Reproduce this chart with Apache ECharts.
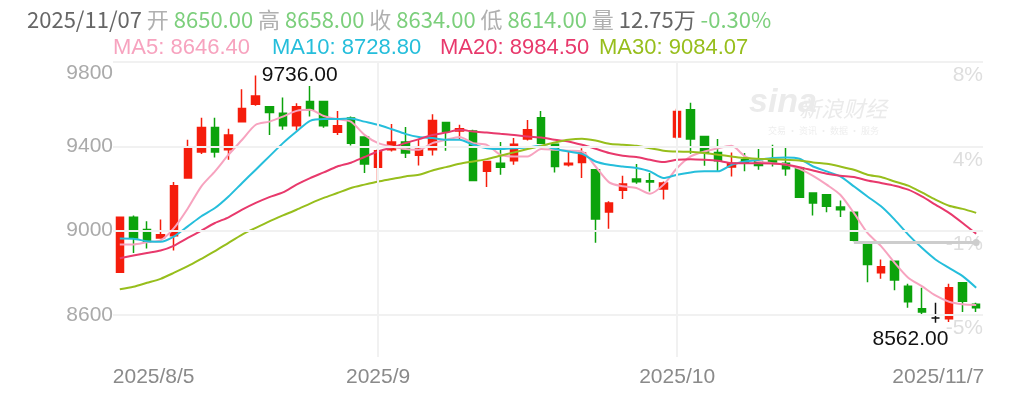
<!DOCTYPE html>
<html><head><meta charset="utf-8">
<script src="https://cdn.jsdelivr.net/npm/echarts@6/dist/echarts.min.js"></script>
<style>html,body{margin:0;padding:0;background:#fff}#c{width:1024px;height:395px}</style>
</head><body><div id="c"></div>
<script>
const dates = [
'2025/8/5','2025/8/6','2025/8/7','2025/8/8','2025/8/11','2025/8/12','2025/8/13','2025/8/14','2025/8/15',
'2025/8/18','2025/8/19','2025/8/20','2025/8/21','2025/8/22','2025/8/25','2025/8/26','2025/8/27','2025/8/28','2025/8/29',
'2025/9/1','2025/9/2','2025/9/3','2025/9/4','2025/9/5','2025/9/8','2025/9/9','2025/9/10','2025/9/11','2025/9/12',
'2025/9/15','2025/9/16','2025/9/17','2025/9/18','2025/9/19','2025/9/22','2025/9/23','2025/9/24','2025/9/25','2025/9/26',
'2025/9/29','2025/9/30',
'2025/10/9','2025/10/10','2025/10/11','2025/10/13','2025/10/14','2025/10/15','2025/10/16','2025/10/17',
'2025/10/20','2025/10/21','2025/10/22','2025/10/23','2025/10/24','2025/10/27','2025/10/28','2025/10/29','2025/10/30','2025/10/31',
'2025/11/3','2025/11/4','2025/11/5','2025/11/6','2025/11/7'];
const opens  = [8802,9063,9005,8965,8976,9249,9373,9489,9383,9517,9600,9588,9557,9498,9612,9612,9467,9534,9444,9300,9383,9420,9358,9383,9513,9473,9473,9281,9320,9331,9434,9536,9410,9312,9323,9289,9088,9191,9245,9237,9197,9444,9573,9446,9371,9302,9336,9328,9336,9320,9297,9178,9170,9112,9087,8945,8800,8855,8736,8629,8585,8582,8752,8650];
const closes = [9063,8965,8946,8980,9213,9388,9489,9373,9454,9579,9639,9560,9498,9588,9573,9498,9497,9415,9316,9379,9420,9368,9387,9522,9470,9483,9238,9328,9300,9410,9478,9415,9304,9320,9368,9055,9131,9221,9232,9230,9226,9565,9434,9371,9331,9320,9320,9309,9320,9293,9158,9131,9115,9099,8954,8839,8828,8765,8662,8613,8585,8729,8665,8634];
const lows   = [8800,8894,8915,8963,8905,9247,9363,9347,9336,9515,9592,9454,9478,9475,9541,9488,9454,9404,9273,9238,9375,9344,9309,9356,9379,9431,9236,9207,9265,9312,9427,9413,9276,9304,9249,8942,9009,9150,9222,9186,9147,9434,9364,9308,9281,9257,9281,9289,9304,9260,9155,9072,9087,9065,8949,8755,8771,8717,8634,8594,8562,8566,8613,8614];
const highs  = [9066,9072,9044,9052,9230,9431,9536,9536,9483,9671,9736,9590,9631,9604,9686,9614,9568,9541,9446,9387,9506,9491,9434,9552,9515,9502,9478,9330,9420,9439,9525,9568,9412,9375,9391,9291,9139,9260,9316,9273,9233,9578,9607,9448,9434,9371,9368,9387,9407,9396,9299,9180,9172,9143,9089,8947,8863,8857,8748,8729,8658,8748,8754,8658];
const ma5  = [8934,8934,8945,8954,9013,9105,9210,9281,9360,9431,9502,9517,9541,9568,9573,9544,9529,9517,9454,9415,9399,9387,9383,9415,9431,9444,9415,9407,9360,9352,9352,9387,9383,9379,9375,9304,9229,9210,9202,9175,9218,9297,9352,9375,9391,9402,9352,9328,9320,9314,9293,9260,9218,9170,9084,8989,8926,8847,8776,8736,8692,8662,8650,8646.40];
const ma10 = [8962,8961,8949,8947,8973,9020,9068,9107,9162,9226,9289,9352,9415,9470,9521,9529,9529,9532,9517,9502,9481,9459,9444,9439,9431,9431,9407,9391,9387,9391,9394,9402,9388,9375,9364,9328,9312,9304,9297,9281,9249,9265,9276,9281,9281,9312,9328,9336,9344,9347,9341,9304,9281,9257,9210,9162,9115,9052,8981,8918,8863,8823,8784,8728.80];
const ma20 = [8869,8882,8894,8905,8929,8965,9000,9036,9063,9099,9131,9159,9181,9218,9249,9276,9304,9322,9349,9375,9394,9415,9434,9454,9465,9478,9470,9465,9459,9454,9446,9442,9431,9423,9407,9388,9368,9355,9349,9336,9325,9336,9339,9336,9331,9320,9320,9320,9318,9312,9301,9285,9270,9260,9254,9238,9226,9213,9194,9162,9123,9084,9036,8984.50];
const ma30 = [8721,8733,8752,8771,8800,8831,8866,8902,8942,8981,9013,9044,9072,9099,9128,9155,9178,9202,9218,9233,9245,9257,9265,9285,9301,9317,9328,9339,9355,9371,9387,9402,9418,9431,9436,9427,9412,9407,9402,9391,9379,9375,9374,9368,9360,9352,9344,9341,9339,9336,9333,9323,9317,9304,9289,9265,9254,9233,9213,9181,9147,9118,9103,9084.07];
const maNames = ['MA5','MA10','MA20','MA30'];
const yTickValues = [9800,9400,9000,8600];
const yTickLabels = ['9800','9400','9000','8600'];
const pctLabels = ['8%','4%','-1%','-5%'];
const xTickDates = ['2025/8/5','2025/9/1','2025/10/9','2025/11/7'];
const xTickLabels = ['2025/8/5','2025/9','2025/10','2025/11/7'];
const monthLineDates = ['2025/9/1','2025/10/9'];
const headerDate = '2025/11/07';
const headerVolume = '12.75万';
const headerChange = '-0.30%';
const refLineValue = 8943;
const refLineStartDate = '2025/10/27';

const maSeries = [ma5, ma10, ma20, ma30];
const maColors = ['#f7a3bf','#25bedb','#e8396c','#97be1c'];
const upColor = '#f51d0c', downColor = '#0ca30c';
const FONT = '"Liberation Sans", Arial, sans-serif';
const CJK = '"Noto Sans CJK SC", sans-serif';
const last = dates.length - 1;
let maxI = 0, minI = 0;
highs.forEach((h,i)=>{ if (h > highs[maxI]) maxI = i; });
lows.forEach((l,i)=>{ if (l < lows[minI]) minI = i; });

const chart = echarts.init(document.getElementById('c'), null, {renderer:'canvas'});
const hdr = '{d|' + headerDate + '} {k|开} {v|' + opens[last].toFixed(2) + '} {k|高} {v|' + highs[last].toFixed(2) +
  '} {k|收} {v|' + closes[last].toFixed(2) + '} {k|低} {v|' + lows[last].toFixed(2) + '} {k|量} {d|' + headerVolume + '} {v|' + headerChange + '}';
const legendX = [113, 272, 440, 599];
const graphics = maNames.map((n,k)=>({
  type:'text', left: legendX[k], top: 37,
  style:{ text: n + ': ' + maSeries[k][last].toFixed(2), fill: maColors[k], font: '22px ' + FONT }
}));
graphics.push({type:'text', left: 749, top: 86, style:{text:'sina', fill:'#ebebeb', font:'italic bold 34px ' + FONT}});
graphics.push({type:'text', left: 799, top: 98, style:{text:'新浪财经', fill:'#ebebeb', font:'italic 22px ' + CJK}});
graphics.push({type:'text', left: 768, top: 126, style:{text:'交易 · 资讯 · 数据 · 服务', fill:'#eeeeee', font:'9px ' + CJK}});

chart.setOption({
  animation: false,
  backgroundColor: '#fff',
  title: { left: 22, top: 4, text: hdr, textStyle: { fontSize: 22, fontWeight: 'normal', fontFamily: CJK, color: '#aaa',
    rich: { d: {color:'#666', fontSize:22, fontFamily:CJK}, k: {color:'#b0b0b0', fontSize:22, fontFamily:CJK}, v: {color:'#7ccf7c', fontSize:22, fontFamily:CJK} } } },
  graphic: graphics,
  grid: { left: 113, right: 41, top: 62, bottom: 38, containLabel: false },
  xAxis: { type: 'category', data: dates, boundaryGap: true,
    axisLine: {show:false}, axisTick: {show:false}, splitLine: {show:false},
    axisLabel: { interval: (i, v) => xTickDates.includes(v),
      formatter: v => { const k = xTickDates.indexOf(v); if (k < 0) return ''; if (k === 0) return '{f|' + xTickLabels[k] + '}'; if (k === xTickDates.length - 1) return '{l|' + xTickLabels[k] + '}'; return xTickLabels[k]; },
      color: '#8a8a8a', fontSize: 21, fontFamily: FONT, margin: 10, hideOverlap: false,
      rich: { f: { width: 14, align: 'left', color: '#8a8a8a', fontSize: 21, fontFamily: FONT },
              l: { width: 16, align: 'right', color: '#8a8a8a', fontSize: 21, fontFamily: FONT } } } },
  yAxis: [
    { type: 'value', min: 8400, max: 9800, interval: 200, position: 'left', scale: true,
      axisLine:{show:false}, axisTick:{show:false}, splitLine:{show:false},
      axisLabel: { color: '#aaa', fontSize: 21, fontFamily: FONT, margin: 0,
        formatter: v => { const k = yTickValues.indexOf(v); if (k < 0) return ''; return k === 0 ? '{t|' + yTickLabels[k] + '}' : yTickLabels[k]; },
        rich: { t: { padding: [22,0,0,0], color:'#aaa', fontSize: 21, fontFamily: FONT } } } },
    { type: 'value', min: 8400, max: 9800, interval: 200, position: 'right', scale: true,
      axisLine:{show:false}, axisTick:{show:false}, splitLine:{show:false},
      axisLabel: { inside: true, color: '#dedede', fontSize: 21, fontFamily: FONT, margin: 0, verticalAlign: 'top', padding: [3,0,0,0],
        formatter: v => { const k = yTickValues.indexOf(v); return k < 0 ? '' : pctLabels[k]; } } }
  ],
  series: [
    { type: 'line', data: closes, symbol: 'none', silent: true, z: 1, lineStyle: {opacity: 0},
      markLine: { silent: true, symbol: 'none', label: {show:false}, animation: false,
        lineStyle: { color: '#f1f1f1', width: 2, type: 'solid' },
        data: yTickValues.map(v => ({yAxis: v})).concat(monthLineDates.map(d => ({xAxis: d}))) } },
    { type: 'line', data: closes, symbol: 'none', silent: true, z: 1, lineStyle: {opacity: 0},
      markLine: { silent: true, symbol: ['none','circle'], symbolSize: 7, label: {show:false}, animation: false,
        lineStyle: { color: '#cdcdcd', width: 3, type: 'solid' },
        data: [[{coord: [refLineStartDate, refLineValue]}, {coord: [dates[last], refLineValue]}]] } },
    { type: 'candlestick', name: 'K', z: 3, barWidth: 8,
      data: dates.map((d,i) => [opens[i], closes[i], lows[i], highs[i]]),
      itemStyle: { color: upColor, color0: downColor, borderColor: upColor, borderColor0: downColor, borderColorDoji: '#111', borderWidth: 1.5 },
      markPoint: { symbol: 'circle', symbolSize: 0, animation: false,
        label: { show: true, color: '#111', fontSize: 21, fontFamily: FONT },
        data: [
          { coord: [dates[maxI], highs[maxI]], value: highs[maxI], label: { position: 'right', distance: 6, formatter: p => Number(p.value).toFixed(2) } },
          { coord: [dates[minI], lows[minI]], value: lows[minI], label: { position: 'bottom', distance: 6, offset: [-25, 0], formatter: p => Number(p.value).toFixed(2) } }
        ] } }
  ].concat(maSeries.map((arr,k) => ({
    type: 'line', name: maNames[k], data: arr, showSymbol: false, symbol: 'none', smooth: 0.25, z: 4, silent: true,
    lineStyle: { color: maColors[k], width: 2 }
  })))
});
</script></body></html>
